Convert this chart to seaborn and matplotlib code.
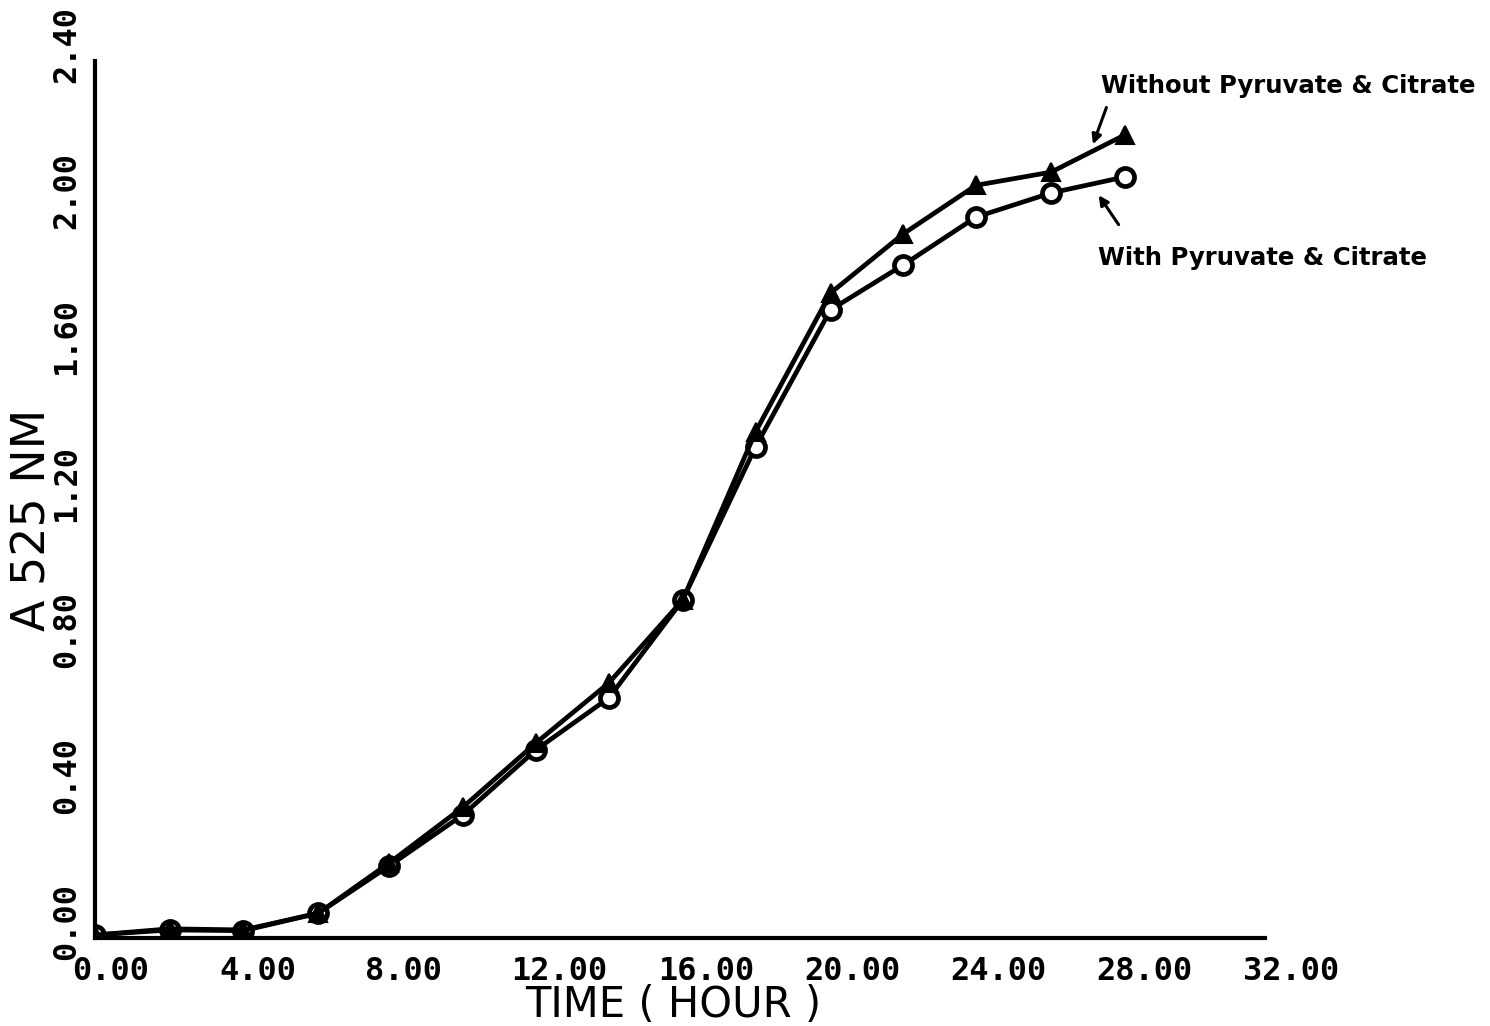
import matplotlib
matplotlib.use("Agg")
import matplotlib.pyplot as plt
import matplotlib.transforms as mtransforms
import seaborn as sns
import pandas as pd

# ---- data ----
time_h = [0, 2.05, 4.07, 6.12, 8.05, 10.07, 12.07, 14.06, 16.08, 18.07, 20.12, 22.11, 24.1, 26.15, 28.17]
without_pc = [0.008, 0.025, 0.022, 0.068, 0.205, 0.358, 0.534, 0.698, 0.925, 1.385, 1.765, 1.927, 2.06, 2.096, 2.198]
with_pc = [0.008, 0.022, 0.020, 0.068, 0.197, 0.337, 0.515, 0.657, 0.925, 1.344, 1.719, 1.842, 1.973, 2.039, 2.083]
x_ticks = [0, 4, 8, 12, 16, 20, 24, 28, 32]
x_ticklabels = ["0.00", "4.00", "8.00", "12.00", "16.00", "20.00", "24.00", "28.00", "32.00"]
y_ticks = [0, 0.4, 0.8, 1.2, 1.6, 2.0, 2.4]
y_ticklabels = ["0.00", "0.40", "0.80", "1.20", "1.60", "2.00", "2.40"]

df_with = pd.DataFrame({"time": time_h, "a525": with_pc})
df_without = pd.DataFrame({"time": time_h, "a525": without_pc})

sns.set_style("white")
plt.rcParams.update({"text.color": "black", "axes.labelcolor": "black",
                     "xtick.color": "black", "ytick.color": "black"})
fig = plt.figure(figsize=(14.9, 10.26), dpi=100)
ax = fig.add_axes([0.0635, 0.0858, 0.849 - 0.0635, 0.9405 - 0.0858])

sns.lineplot(data=df_with, x="time", y="a525", ax=ax, color="black", lw=3.4,
             marker="o", markersize=13, markerfacecolor="white",
             markeredgecolor="black", markeredgewidth=3.4, zorder=3)
sns.lineplot(data=df_without, x="time", y="a525", ax=ax, color="black", lw=3.4,
             marker="^", markersize=13, markerfacecolor="black",
             markeredgecolor="black", markeredgewidth=1.5, zorder=4)

ax.set_xlim(0, 32)
ax.set_ylim(0, 2.4)
for s in ["top", "right"]:
    ax.spines[s].set_visible(False)
for s in ["left", "bottom"]:
    ax.spines[s].set_linewidth(3)
    ax.spines[s].set_color("black")

ax.set_xticks(x_ticks)
ax.set_xticklabels(x_ticklabels, family="DejaVu Sans Mono", weight="bold", fontsize=23,
                   ha="left")
ax.set_yticks(y_ticks)
ax.set_yticklabels(y_ticklabels, family="DejaVu Sans Mono", weight="bold", fontsize=23,
                   rotation=90, va="bottom")
ax.tick_params(axis="both", direction="out", length=12, width=3, color="black", pad=1)

# offset tick labels like the plotter output of the reference
dx = mtransforms.ScaledTranslation(-22 / 100, 0, fig.dpi_scale_trans)
for lab in ax.get_xticklabels():
    lab.set_transform(lab.get_transform() + dx)
dy = mtransforms.ScaledTranslation(6 / 100, -22 / 100, fig.dpi_scale_trans)
for lab in ax.get_yticklabels():
    lab.set_transform(lab.get_transform() + dy)

ax.set_xlabel("TIME ( HOUR )", family="DejaVu Sans", fontsize=30)
ax.xaxis.set_label_coords((673.5 - 95) / 1170, -0.053)
ax.set_ylabel("A 525 NM", family="DejaVu Sans", fontsize=33)
ax.yaxis.set_label_coords(-0.033, 0.477)

# annotations
ax.text(27.52, 2.332, "Without Pyruvate & Citrate", family="DejaVu Sans",
        weight="bold", fontsize=17.6, ha="left", va="center", clip_on=False)
ax.text(27.44, 1.861, "With Pyruvate & Citrate", family="DejaVu Sans",
        weight="bold", fontsize=17.6, ha="left", va="center", clip_on=False)
ax.annotate("", xy=(27.27, 2.165), xytext=(27.69, 2.28),
            arrowprops=dict(arrowstyle="-|>", color="black", lw=2.2, mutation_scale=14),
            annotation_clip=False)
ax.annotate("", xy=(27.41, 2.039), xytext=(28.04, 1.946),
            arrowprops=dict(arrowstyle="-|>", color="black", lw=2.2, mutation_scale=14),
            annotation_clip=False)

fig.savefig("out.png", dpi=100, facecolor="white")
